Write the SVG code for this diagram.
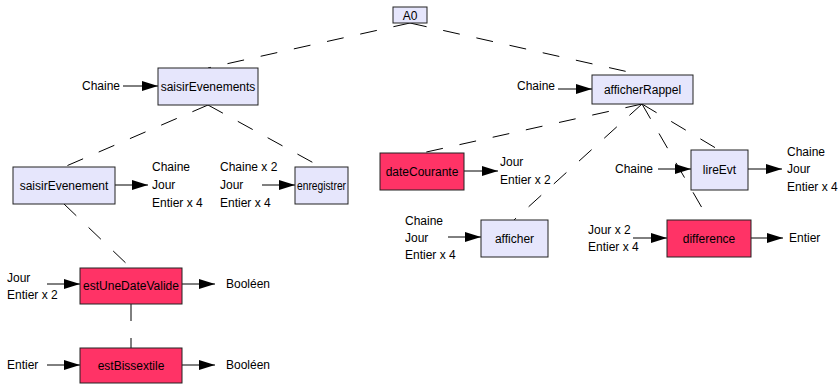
<svg xmlns="http://www.w3.org/2000/svg" width="838" height="384" viewBox="0 0 838 384">
  <style>
    text { font-family: "Liberation Sans", Arial, sans-serif; font-size: 12px; fill: #000; }
    .box rect { stroke: #222; stroke-width: 1; }
    .fn rect { fill: #e6e6fc; }
    .hot rect { fill: #ff3366; }
    .box text { text-anchor: middle; }
    .tree line { stroke: #000; stroke-width: 1; stroke-dasharray: 17 17; fill: none; }
    .flow line { stroke: #000; stroke-width: 1; marker-end: url(#arrow); }
  </style>
  <defs>
    <marker id="arrow" viewBox="0 0 16 10" refX="16" refY="5" markerWidth="16" markerHeight="10" markerUnits="userSpaceOnUse" orient="auto">
      <path d="M0,0 L16,5 L0,10 z" fill="#000"/>
    </marker>
  </defs>
  <rect width="838" height="384" fill="#fff"/>

  <!-- decomposition tree (dashed) -->
  <g id="connectors">
    <g class="tree">
      <line x1="410" y1="23" x2="208" y2="68"/>
      <line x1="410" y1="23" x2="642" y2="75"/>
      <line x1="208" y1="105" x2="64" y2="167"/>
      <line x1="208" y1="105" x2="321" y2="167"/>
      <line x1="64" y1="204" x2="131" y2="268"/>
      <line x1="131" y1="304" x2="131" y2="348"/>
      <line x1="642" y1="104" x2="422" y2="153"/>
      <line x1="642" y1="104" x2="514" y2="220"/>
      <line x1="642" y1="104" x2="719" y2="150"/>
      <line x1="642" y1="104" x2="709" y2="220"/>
    </g>
    <!-- data flow arrows -->
    <g class="flow">
      <line x1="123" y1="86" x2="158" y2="86"/>
      <line x1="115" y1="185" x2="148" y2="185"/>
      <line x1="262" y1="185" x2="295" y2="185"/>
      <line x1="558" y1="89" x2="592" y2="89"/>
      <line x1="464" y1="171" x2="498" y2="171"/>
      <line x1="658" y1="169" x2="691" y2="169"/>
      <line x1="748" y1="169" x2="782" y2="169"/>
      <line x1="448" y1="237" x2="481" y2="237"/>
      <line x1="633" y1="238" x2="667" y2="238"/>
      <line x1="751" y1="238" x2="783" y2="238"/>
      <line x1="47" y1="284" x2="80" y2="284"/>
      <line x1="182" y1="284" x2="215" y2="284"/>
      <line x1="47" y1="365" x2="80" y2="365"/>
      <line x1="182" y1="365" x2="215" y2="365"/>
    </g>
  </g>

  <!-- data labels -->
  <g id="labels">
    <text x="82" y="90">Chaine</text>
    <text x="152" y="171">Chaine</text>
    <text x="152" y="189">Jour</text>
    <text x="152" y="207">Entier x 4</text>
    <text x="220" y="171">Chaine x 2</text>
    <text x="220" y="189">Jour</text>
    <text x="220" y="207">Entier x 4</text>
    <text x="517" y="90">Chaine</text>
    <text x="500" y="166">Jour</text>
    <text x="500" y="184">Entier x 2</text>
    <text x="615" y="173">Chaine</text>
    <text x="787" y="156">Chaine</text>
    <text x="787" y="173">Jour</text>
    <text x="787" y="191">Entier x 4</text>
    <text x="405" y="225">Chaine</text>
    <text x="405" y="242">Jour</text>
    <text x="405" y="259">Entier x 4</text>
    <text x="588" y="234">Jour x 2</text>
    <text x="588" y="251">Entier x 4</text>
    <text x="789" y="242">Entier</text>
    <text x="7" y="282">Jour</text>
    <text x="7" y="299">Entier x 2</text>
    <text x="226" y="288">Booléen</text>
    <text x="7" y="369">Entier</text>
    <text x="226" y="369">Booléen</text>
  </g>

  <!-- modules -->
  <g id="A0" class="box fn"><rect x="393" y="7" width="34" height="16"/><text x="410" y="19.5">A0</text></g>
  <g id="saisirEvenements" class="box fn"><rect x="158" y="68" width="100" height="37"/><text x="208" y="90.5">saisirEvenements</text></g>
  <g id="afficherRappel" class="box fn"><rect x="592" y="75" width="101" height="29"/><text x="642.5" y="93.5">afficherRappel</text></g>
  <g id="saisirEvenement" class="box fn"><rect x="13" y="167" width="102" height="37"/><text x="64" y="189.5">saisirEvenement</text></g>
  <g id="enregistrer" class="box fn"><rect x="295" y="167" width="53" height="37"/><text x="321.5" y="189.5" textLength="49" lengthAdjust="spacingAndGlyphs">enregistrer</text></g>
  <g id="dateCourante" class="box hot"><rect x="380" y="153" width="84" height="37"/><text x="422" y="175.5">dateCourante</text></g>
  <g id="lireEvt" class="box fn"><rect x="691" y="150" width="57" height="40"/><text x="719.5" y="174">lireEvt</text></g>
  <g id="afficher" class="box fn"><rect x="481" y="220" width="67" height="37"/><text x="514.5" y="242.5">afficher</text></g>
  <g id="difference" class="box hot"><rect x="667" y="220" width="84" height="37"/><text x="709" y="242.5">difference</text></g>
  <g id="estUneDateValide" class="box hot"><rect x="80" y="268" width="102" height="36"/><text x="131" y="290">estUneDateValide</text></g>
  <g id="estBissextile" class="box hot"><rect x="80" y="348" width="102" height="35"/><text x="131" y="370">estBissextile</text></g>
</svg>
